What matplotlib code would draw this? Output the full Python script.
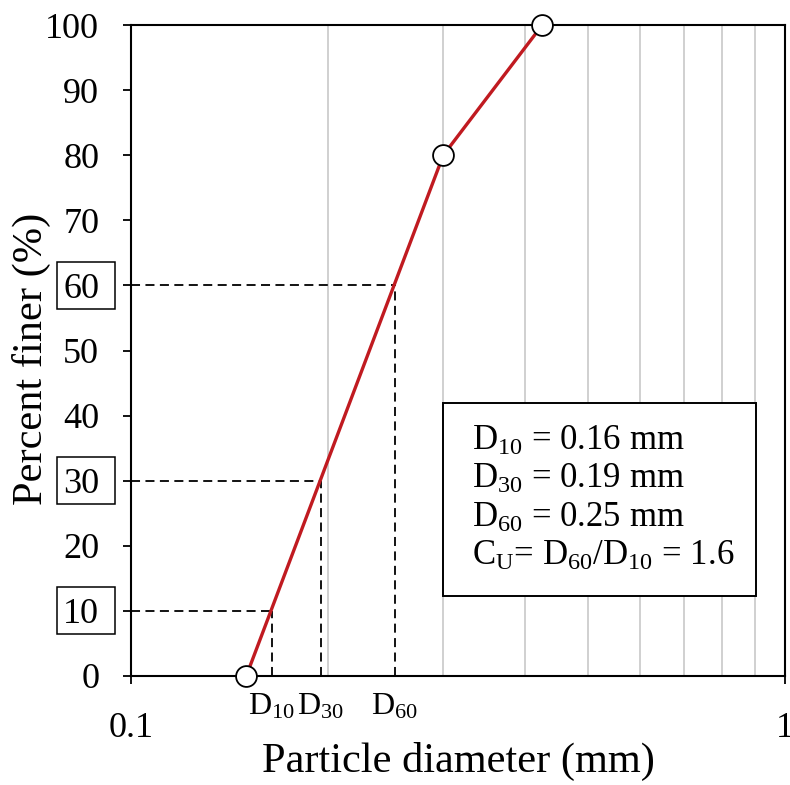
import numpy as np
import matplotlib
matplotlib.use("Agg")
import matplotlib.pyplot as plt
import matplotlib.transforms as mtransforms
from matplotlib.ticker import FixedLocator, FixedFormatter, NullLocator, NullFormatter
from matplotlib.patches import Rectangle

plt.rcParams["font.family"] = ["Liberation Serif", "DejaVu Serif"]
plt.rcParams["mathtext.fontset"] = "custom"
plt.rcParams["mathtext.rm"] = "Liberation Serif"
plt.rcParams["mathtext.it"] = "Liberation Serif"

# gradation curve (mm, % finer)
diameter = [0.15, 0.30, 0.425]
finer = [0, 80, 100]

# characteristic sizes, where the dashed guides meet the curve
d_labels = ["10", "30", "60"]
d_values = [0.164, 0.195, 0.253]
d_percent = [10, 30, 60]

y_ticks = list(range(0, 101, 10))
boxed_ticks = [10, 30, 60]
grid_x = [0.2, 0.3, 0.4, 0.5, 0.6, 0.7, 0.8, 0.9]

fig = plt.figure(figsize=(7.9, 7.85), dpi=100)
ax = fig.add_axes([0.166, 0.139, 0.828, 0.829])
ax.set_xscale("log")
ax.set_xlim(0.1, 1)
ax.set_ylim(0, 100)

for g in grid_x:
    ax.axvline(g, color="#c4c4c4", lw=1.1, zorder=0)

# dashed guide lines
for dv, dp in zip(d_values, d_percent):
    ax.plot([0.1, dv], [dp, dp], color="black", ls=(0, (5, 3)), lw=1.3, zorder=2)
    ax.plot([dv, dv], [0, dp], color="black", ls=(0, (5, 3)), lw=1.3, zorder=2)

ax.plot(diameter, finer, color="#c01a20", lw=2.4, zorder=3)
ax.plot(diameter, finer, ls="none", marker="o", ms=15, mfc="white",
        mec="black", mew=1.3, zorder=4, clip_on=False)

ax.xaxis.set_major_locator(FixedLocator([0.1, 1]))
ax.xaxis.set_major_formatter(FixedFormatter(["0.1", "1"]))
ax.xaxis.set_minor_locator(NullLocator())
ax.xaxis.set_minor_formatter(NullFormatter())
ax.set_yticks(y_ticks)
ax.tick_params(axis="y", direction="out", length=6, width=1.3, labelsize=26, pad=17)
ax.tick_params(axis="x", direction="out", length=6, width=1.3, labelsize=26, pad=20)

# boxes round the 10 / 30 / 60 tick labels (x in figure fraction, y in data)
box_tr = mtransforms.blended_transform_factory(fig.transFigure, ax.transData)
for t in boxed_ticks:
    fig.add_artist(Rectangle((57 / 790, t - 3.6), 58 / 790, 7.2, transform=box_tr,
                             facecolor="none", edgecolor="black", lw=1.1))

for sp in ax.spines.values():
    sp.set_linewidth(1.5)

for lbl, dv in zip(d_labels, d_values):
    ax.text(dv, -2.5, "D$_{" + lbl + "}$", ha="center", va="top", fontsize=23,
            clip_on=False)

fig.text(458 / 790, 1 - 761 / 785, "Particle diameter (mm)", fontsize=30.5,
         ha="center", va="center")
fig.text(31 / 790, 1 - 359 / 785, "Percent finer (%)", fontsize=30.5,
         ha="center", va="center", rotation=90)

# info box
ax.add_patch(Rectangle((0.477, 0.123), 0.479, 0.296, transform=ax.transAxes,
                       facecolor="white", edgecolor="black", lw=1.4, zorder=5))
box_text = ("D$_{10}$ = 0.16 mm\n"
            "D$_{30}$ = 0.19 mm\n"
            "D$_{60}$ = 0.25 mm\n"
            "C$_{U}$= D$_{60}$/D$_{10}$ = 1.6")
ax.text(0.521, 0.272, box_text, transform=ax.transAxes, fontsize=25,
        va="center", ha="left", linespacing=1.22, zorder=6)

fig.savefig("out.png", dpi=100)
